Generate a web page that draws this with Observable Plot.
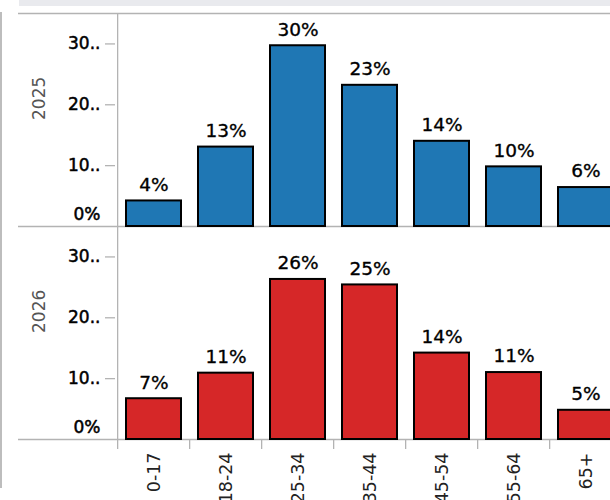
<!DOCTYPE html>
<html>
<head>
<meta charset="utf-8">
<script src="https://cdn.jsdelivr.net/npm/d3@7"></script>
<script src="https://cdn.jsdelivr.net/npm/@observablehq/plot@0.6"></script>
<style>
  html, body { margin: 0; padding: 0; background: #fff; overflow: hidden; }
  #wrap { position: relative; width: 610px; height: 500px; overflow: hidden; }
  #topband { position: absolute; left: 19px; top: 0; width: 600px; height: 6px; background: #e9eaee; }
  #leftline { position: absolute; left: 0; top: 12px; width: 1.5px; height: 476px; background: #bdbdbd; }
  #chart { position: absolute; left: 0; top: 0; width: 640px; }
  #chart svg { max-width: none !important; }
</style>
</head>
<body>
<div id="wrap">
  <div id="chart"></div>
  <div id="topband"></div>
  <div id="leftline"></div>
</div>
<script>
const ages = ["0-17", "18-24", "25-34", "35-44", "45-54", "55-64", "65+"];
const years = ["2025", "2026"];
const values2025 = [4.2, 13.05, 29.7, 23.2, 14.0, 9.8, 6.4];
const values2026 = [6.7, 10.9, 26.3, 25.4, 14.2, 11.0, 4.8];
const yTicks = [0, 10, 20, 30];
const yTickLabels = ["0%", "10..", "20..", "30.."];
const colors = ["#1f77b4", "#d62728"];

const data = years.flatMap((yr, j) =>
  ages.map((a, i) => ({year: yr, age: a, value: (j === 0 ? values2025 : values2026)[i]}))
);

const W = 640, ML = 115, MR = 16, PI = 0.24, PO = 0.12;
const step = (W - ML - MR) / (ages.length - PI + 2 * PO);
const gridColor = "#b3b3b3";
const yFmt = d => yTickLabels[yTicks.indexOf(d)];

const chart = Plot.plot({
  width: W,
  height: 500,
  marginLeft: ML,
  marginRight: MR,
  marginTop: 12,
  marginBottom: 61,
  style: {fontFamily: "DejaVu Sans", fontSize: "17px", background: "transparent", maxWidth: "none"},
  x: {domain: ages, paddingInner: PI, paddingOuter: PO, axis: null, label: null},
  y: {domain: [0, 35], axis: null, label: null},
  fy: {domain: years, axis: null, padding: 0, label: null},
  color: {domain: years, range: colors},
  marks: [
    Plot.ruleY([0], {stroke: gridColor, strokeWidth: 1.3, insetLeft: -97}),
    Plot.ruleY([{year: "2025", v: 35}], {y: "v", fy: "year", stroke: gridColor, strokeWidth: 1.3, insetLeft: -97}),
    Plot.ruleX([ages[0]], {dx: -step / 2, stroke: gridColor, strokeWidth: 1.3}),
    Plot.barY(data, {x: "age", y: "value", fy: "year", fill: "year", stroke: "black", strokeWidth: 2}),
    Plot.text(data, {x: "age", y: "value", fy: "year", text: d => Math.round(d.value) + "%", dy: -16, fontSize: 18.5, fill: "#000", stroke: "#000", strokeWidth: 0.35}),
    Plot.axisY({anchor: "left", label: null, ticks: yTicks.slice(1), tickFormat: yFmt, tickSize: 10, tickPadding: 5, stroke: gridColor, strokeWidth: 1.3, fill: "#000", textStroke: "#000", textStrokeWidth: 0.5, fontSize: 17}),
    Plot.axisY({anchor: "left", label: null, ticks: yTicks.slice(0, 1), tickFormat: yFmt, tickSize: 0, tickPadding: 15, dy: -12, fill: "#000", textStroke: "#000", textStrokeWidth: 0.5, fontSize: 17}),
    Plot.axisX({anchor: "bottom", label: null, tickSize: 10, tickFormat: () => "", dx: -step / 2, stroke: gridColor, strokeWidth: 1.3}),
    Plot.axisX({anchor: "bottom", label: null, tickSize: 0, tickPadding: 13, tickRotate: -90, fill: "#222", fontSize: 17.5}),
    Plot.text(years, {fy: d => d, text: d => d, frameAnchor: "left", rotate: -90, dx: -76, fill: "#555", fontSize: 17})
  ]
});
document.getElementById("chart").appendChild(chart);
</script>
</body>
</html>
